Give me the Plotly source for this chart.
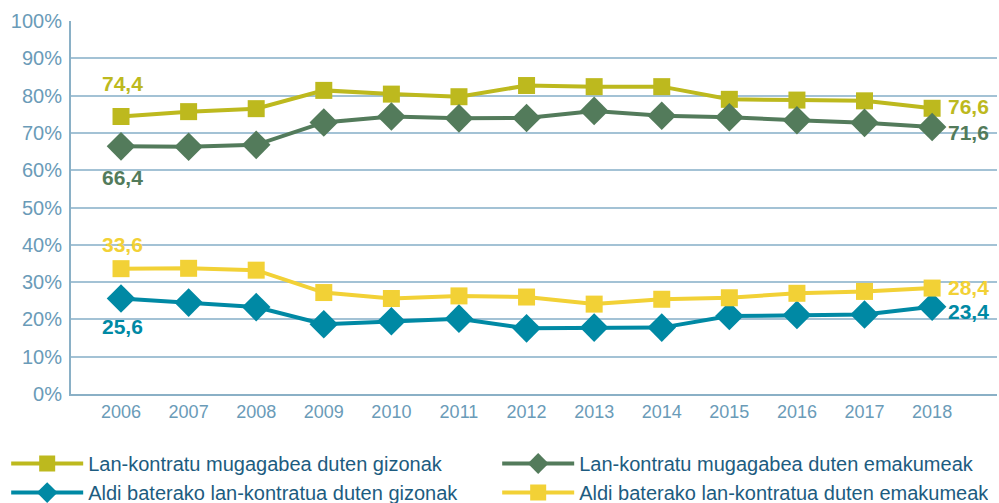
import plotly.graph_objects as go

years = [2006, 2007, 2008, 2009, 2010, 2011, 2012, 2013, 2014, 2015, 2016, 2017, 2018]

names = [
    "Lan-kontratu mugagabea duten gizonak",
    "Lan-kontratu mugagabea duten emakumeak",
    "Aldi baterako lan-kontratua duten gizonak",
    "Aldi baterako lan-kontratua duten emakumeak",
]

gizon_mugagabea = [74.4, 75.7, 76.5, 81.4, 80.4, 79.7, 82.7, 82.4, 82.4, 79.0, 78.8, 78.6, 76.6]
emakume_mugagabea = [66.4, 66.3, 66.8, 72.8, 74.4, 73.9, 74.0, 75.9, 74.6, 74.2, 73.4, 72.7, 71.6]
gizon_aldi = [25.6, 24.5, 23.3, 18.7, 19.5, 20.2, 17.6, 17.8, 17.8, 20.9, 21.2, 21.3, 23.4]
emakume_aldi = [33.6, 33.7, 33.2, 27.2, 25.6, 26.3, 26.0, 24.1, 25.4, 25.8, 27.0, 27.5, 28.4]

y_ticks = [0, 10, 20, 30, 40, 50, 60, 70, 80, 90, 100]
y_tick_labels = [f"{v}%" for v in y_ticks]

colors = ["#BDB91E", "#537B5B", "#0089A4", "#F2D136"]
symbols = ["square", "diamond", "diamond", "square"]
sizes = [17, 22, 22, 17]
series = [gizon_mugagabea, emakume_mugagabea, gizon_aldi, emakume_aldi]
legends = ["legend", "legend", "legend2", "legend2"]
first_shift = [33, -31, -28, 24]
last_shift = [2, -6, -5, 1]

fig = go.Figure()
for name, vals, col, sym, sz, lg in zip(names, series, colors, symbols, sizes, legends):
    fig.add_trace(go.Scatter(
        x=years, y=vals, name=name, mode="lines+markers",
        line=dict(color=col, width=4),
        marker=dict(symbol=sym, size=sz, color=col),
        legend=lg,
    ))

def fmt(v):
    return f"{v:.1f}".replace(".", ",")

label_font = "Liberation Sans, Arial, sans-serif"
for vals, col, ys, ls in zip(series, colors, first_shift, last_shift):
    fig.add_annotation(x=years[0], y=vals[0], text=f"<b>{fmt(vals[0])}</b>",
                       showarrow=False, yshift=ys, xshift=1,
                       font=dict(family=label_font, size=21, color=col))
    fig.add_annotation(x=years[-1], y=vals[-1], text=f"<b>{fmt(vals[-1])}</b>",
                       showarrow=False, xanchor="left", xshift=14, yshift=ls,
                       font=dict(family=label_font, size=21, color=col))

legend_common = dict(
    orientation="h", x=-0.07, xanchor="left", yanchor="top",
    entrywidth=404, entrywidthmode="pixels", itemwidth=72,
    font=dict(family=label_font, size=20, color="#1D5C80"),
    traceorder="normal", bgcolor="rgba(0,0,0,0)",
)

fig.update_layout(
    width=999, height=503,
    margin=dict(l=71, r=2, t=21, b=109, autoexpand=False),
    plot_bgcolor="white", paper_bgcolor="white",
    showlegend=True,
    legend=dict(y=-0.134, **legend_common),
    legend2=dict(y=-0.212, **legend_common),
    xaxis=dict(
        range=[2005.26, 2018.96], tickvals=years, ticktext=[str(y) for y in years],
        showgrid=False, zeroline=False, showline=True, linecolor="#8AB0C6", linewidth=2,
        ticks="", tickfont=dict(family="Liberation Sans, Arial, sans-serif", size=18, color="#6A9BB8"),
    ),
    yaxis=dict(
        range=[0, 100], tickvals=y_ticks, ticktext=y_tick_labels,
        showgrid=True, gridcolor="#A3C2D5", gridwidth=1.5, zeroline=False,
        showline=True, linecolor="#8AB0C6", linewidth=2, ticks="", ticklabelstandoff=3,
        tickfont=dict(family="Liberation Sans, Arial, sans-serif", size=20, color="#6A9BB8"),
    ),
)

fig.write_html("out.html", config={"displayModeBar": False},
               post_script="document.body.style.margin='0';")
